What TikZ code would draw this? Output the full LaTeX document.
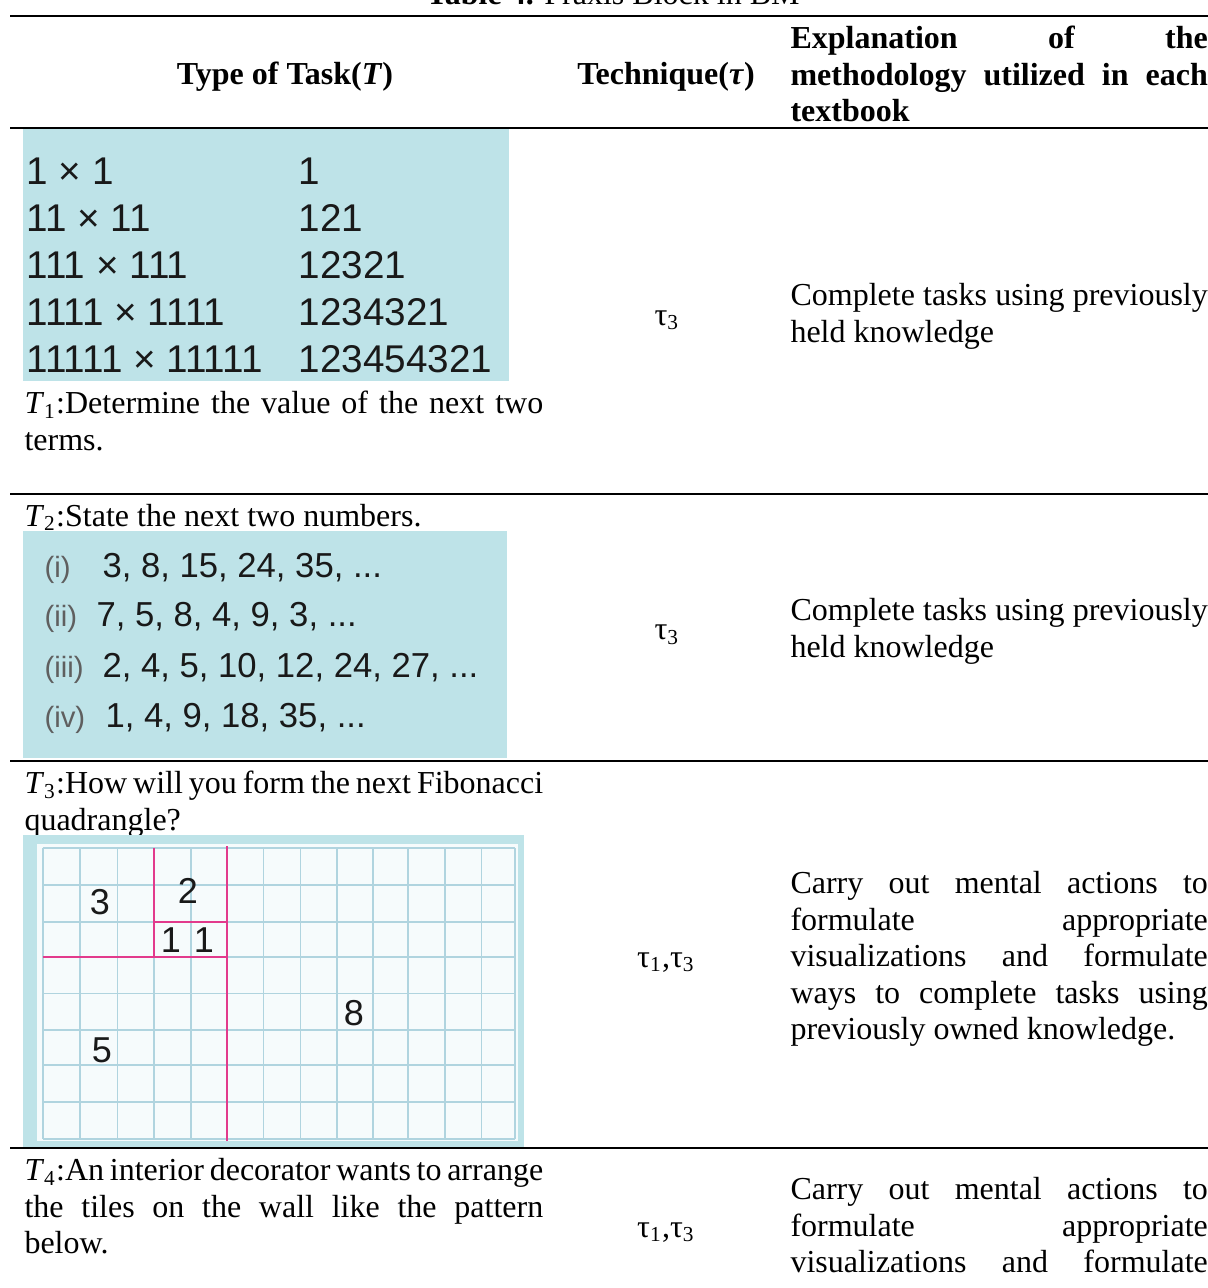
\documentclass[tikz,border=0pt]{standalone}
\usepackage{fontspec}
\setmainfont{Liberation Serif}
\newfontfamily\arialfont{Liberation Sans}
\usepackage{xcolor}
\definecolor{picblue}{RGB}{190,227,232}
\definecolor{fibpaper}{RGB}{246,251,252}
\definecolor{gridblue}{RGB}{176,212,223}
\definecolor{fibpink}{RGB}{226,58,140}
\definecolor{numgray}{RGB}{25,25,25}
\definecolor{labgray}{RGB}{95,95,95}
\newcommand{\tsk}[1]{\textit{T}\textsubscript{#1}}
\newcommand{\tq}[1]{τ\textsubscript{#1}}
\hyphenpenalty=10000

\tikzset{
	cell/.style={inner sep=0pt, font=\fontsize{12}{13.7}\selectfont},
	headcell/.style={cell, font=\bfseries\fontsize{12}{13.7}\selectfont},
	textcol/.style={anchor=north west, align=justify},
	tablerule/.style={line width=0.8pt},
	sqnum/.style={inner sep=0pt, anchor=west, text=numgray, font=\arialfont\fontsize{14.5}{17}\selectfont},
	seqnum/.style={inner sep=0pt, anchor=base west, text=numgray, font=\arialfont\fontsize{13}{15}\selectfont},
	seqlab/.style={seqnum, text=labgray, font=\arialfont\fontsize{11}{13}\selectfont},
	gridline/.style={draw=gridblue, line width=0.7pt},
	fibline/.style={draw=fibpink, line width=1.1pt},
	fibnum/.style={inner sep=0pt, text=numgray, font=\arialfont\fontsize{13.5}{15}\selectfont}
}

\begin{document}
\begin{tikzpicture}[x=0.375pt, y=-0.375pt]
	% page
	\useasboundingbox (0,0) rectangle (1208,1288);
	\clip (0,0) rectangle (1208,1288);
	
	% caption, cut by the top edge
	\node[cell, anchor=base] (caption) at (613,4.5) {\textbf{Table 4.} Praxis Block in BM};
	
	% draw rules
	\draw[tablerule, line width=0.95pt] (10,16) -- (1208,16);
	\draw[tablerule, line width=0.95pt] (10,128) -- (1208,128);
	\draw[tablerule] (10,494) -- (1208,494);
	\draw[tablerule] (10,761) -- (1208,761);
	\draw[tablerule] (10,1148) -- (1208,1148);
	
	% header
	\node[headcell, anchor=base] (headTask) at (285,84) {Type of Task(\textit{T})};
	\node[headcell, anchor=base] (headTech) at (666,84) {Technique(\textit{τ})};
	\node[headcell, textcol, text width=156.5pt] (headExpl) at (790,22.4) {\strut Explanation of the\linebreak methodology utilized in each\linebreak textbook};
	
	% T1: squares of repunits
	\fill[picblue] (23,129) rectangle (509,381);
	\foreach \lhs/\rhs [count=\k from 0] in {1 × 1/1, 11 × 11/121, 111 × 111/12321, 1111 × 1111/1234321, 11111 × 11111/123454321}{
		\node[sqnum] (lhs\k) at (26,171+47*\k) {\lhs};
		\node[sqnum] (rhs\k) at (298,171+47*\k) {\rhs};
	}
	\node[cell, textcol, text width=194.5pt] (taskOne) at (24,387.4) {\strut\tsk{1}:Determine the value of the next two\linebreak terms.};
	\node[cell, anchor=base] (techOne) at (667,325) {\tq{3}};
	\node[cell, textcol, text width=156.5pt] (explOne) at (790,279.4) {\strut Complete tasks using previously\linebreak held knowledge};
	
	% T2: number sequences
	\node[cell, anchor=base west] (taskTwo) at (24,526) {\tsk{2}:State the next two numbers.};
	\fill[picblue] (23,531) rectangle (507,758);
	\node[seqlab] (labOne) at (44,577.4) {(i)};
	\node[seqnum] (seqOne) at (102,577.4) {3, 8, 15, 24, 35, ...};
	\node[seqlab] (labTwo) at (44,626.4) {(ii)};
	\node[seqnum] (seqTwo) at (96,626.4) {7, 5, 8, 4, 9, 3, ...};
	\node[seqlab] (labThree) at (44,677.4) {(iii)};
	\node[seqnum] (seqThree) at (102,677.4) {2, 4, 5, 10, 12, 24, 27, ...};
	\node[seqlab] (labFour) at (44,727.4) {(iv)};
	\node[seqnum] (seqFour) at (105,727.4) {1, 4, 9, 18, 35, ...};
	\node[cell, anchor=base] (techTwo) at (667,639.5) {\tq{3}};
	\node[cell, textcol, text width=156.5pt] (explTwo) at (790,594.4) {\strut Complete tasks using previously\linebreak held knowledge};
	
	% T3: Fibonacci squares on grid paper
	\node[cell, textcol, text width=194.5pt] (taskThree) at (24,767.4) {\strut\tsk{3}:How will you form the next Fibonacci\linebreak quadrangle?};
	\fill[picblue] (23,835) rectangle (524,1147);
	\fill[fibpaper] (37,844) rectangle (518,1141);
	\foreach \gx in {42.6,80,117.5,154,191,227,263.5,300.5,336.6,372.6,408,445,481.5,515}
		\draw[gridline] (\gx,848) -- (\gx,1138.6);
	\foreach \gy in {848,885,922,957,993.5,1030,1065,1102,1138.6}
		\draw[gridline] (42.6,\gy) -- (515,\gy);
	\draw[fibline] (154,848) -- (154,957);
	\draw[fibline] (227,846) -- (227,1141);
	\draw[fibline] (42.6,957) -- (227,957);
	\draw[fibline] (154,922) -- (227,922);
	\node[fibnum] (sqThree) at (100,902) {3};
	\node[fibnum] (sqTwo) at (188,891) {2};
	\node[fibnum] (sqOneA) at (171,940) {1};
	\node[fibnum] (sqOneB) at (204,940) {1};
	\node[fibnum] (sqEight) at (354,1013) {8};
	\node[fibnum] (sqFive) at (102,1050) {5};
	\node[cell, anchor=base] (techThree) at (666,967) {\tq{1},\tq{3}};
	\node[cell, textcol, text width=156.5pt] (explThree) at (790,867.4) {\strut Carry out mental actions to\linebreak formulate appropriate\linebreak visualizations and formulate\linebreak ways to complete tasks using\linebreak previously owned knowledge.};
	
	% T4: runs off the page
	\node[cell, textcol, text width=194.5pt] (taskFour) at (24,1154.4) {\strut\tsk{4}:An interior decorator wants to arrange\linebreak the tiles on the wall like the pattern\linebreak below.};
	\node[cell, anchor=base] (techFour) at (666,1237) {\tq{1},\tq{3}};
	\node[cell, textcol, text width=156.5pt] (explFour) at (790,1173.4) {{\parfillskip=0pt\strut Carry out mental actions to\linebreak formulate appropriate\linebreak visualizations and formulate\par}};
\end{tikzpicture}
\end{document}
